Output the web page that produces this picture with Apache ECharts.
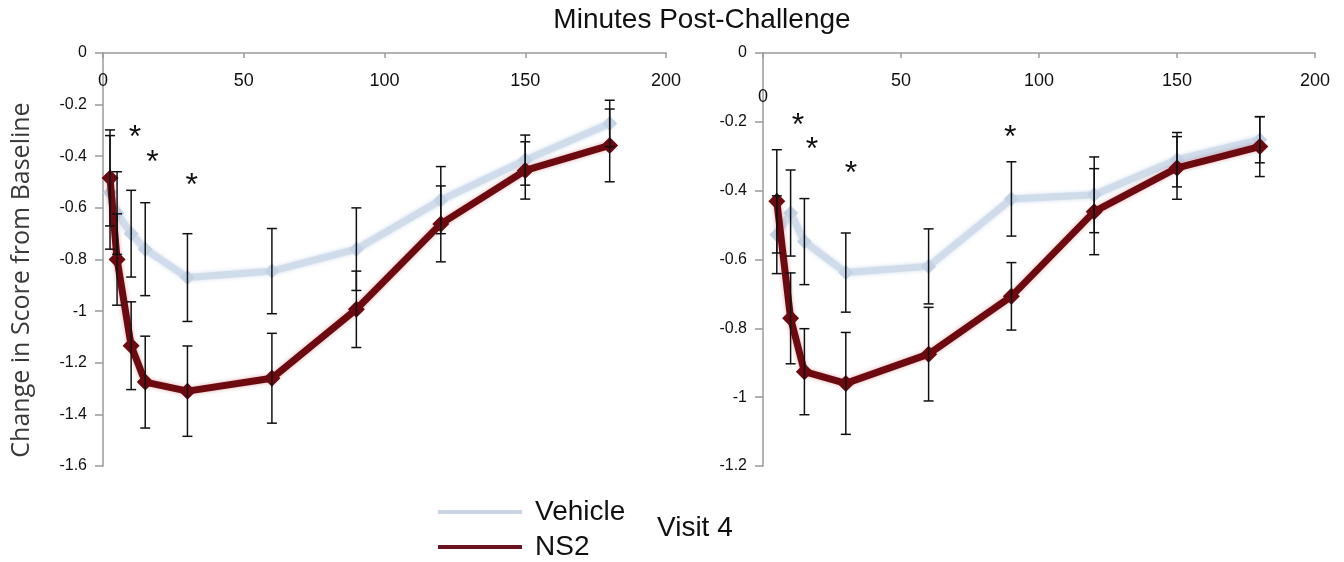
<!DOCTYPE html>
<html>
<head>
<meta charset="utf-8">
<script src="https://cdn.jsdelivr.net/npm/echarts@6/dist/echarts.min.js"></script>
<style>
html,body{margin:0;padding:0;background:#fff;}
#chart{width:1344px;height:562px;}
</style>
</head>
<body>
<div id="chart"></div>
<script>
// ---- data ----
const leftTimes = [2.5, 5, 10, 15, 30, 60, 90, 120, 150, 180];
const leftVehicle = [-0.54, -0.62, -0.70, -0.76, -0.87, -0.845, -0.76, -0.57, -0.415, -0.273];
const leftVehicleErr = [0.22, 0.16, 0.168, 0.18, 0.17, 0.165, 0.16, 0.13, 0.097, 0.09];
const leftNS2 = [-0.484, -0.80, -1.134, -1.275, -1.31, -1.26, -0.993, -0.662, -0.455, -0.358];
const leftNS2Err = [0.186, 0.177, 0.17, 0.178, 0.175, 0.174, 0.148, 0.147, 0.111, 0.141];

const rightTimes = [5, 10, 15, 30, 60, 90, 120, 150, 180];
const rightVehicle = [-0.528, -0.465, -0.548, -0.638, -0.62, -0.424, -0.412, -0.31, -0.252];
const rightVehicleErr = [0.113, 0.125, 0.125, 0.115, 0.109, 0.108, 0.11, 0.079, 0.067];
const rightNS2 = [-0.431, -0.771, -0.926, -0.96, -0.875, -0.707, -0.461, -0.334, -0.272];
const rightNS2Err = [0.15, 0.132, 0.125, 0.148, 0.136, 0.098, 0.125, 0.091, 0.087];

const leftStars = [[11.4, -0.298], [17.6, -0.395], [31.5, -0.486]];
const rightStars = [[12.7, -0.189], [17.75, -0.26], [31.9, -0.328], [89.6, -0.223]];

const xTicks = {min: 0, max: 200, interval: 50};
const leftY = {min: -1.6, max: 0, interval: 0.2};
const rightY = {min: -1.2, max: 0, interval: 0.2};

const seriesNames = ['Vehicle', 'NS2'];
const xTitle = 'Minutes Post-Challenge';
const yTitle = 'Change in Score from Baseline';
const panelLabel = 'Visit 4';

// ---- styling ----
const vehColor = '#d0dcea';
const vehMarker = '#c3d2e5';
const nsColor = '#6c0a10';
const FONT = '"Liberation Sans", Arial, sans-serif';

function zip(a, b, c) { return a.map((v, i) => c ? [v, b[i], c[i]] : [v, b[i]]); }

function errRender(params, api) {
  const x = api.value(0), y = api.value(1), e = api.value(2);
  const top = api.coord([x, y + e]);
  const bot = api.coord([x, y - e]);
  const hw = 5;
  const st = {stroke: '#111', lineWidth: 1.5};
  return {type: 'group', children: [
    {type: 'line', shape: {x1: top[0], y1: top[1], x2: bot[0], y2: bot[1]}, style: st},
    {type: 'line', shape: {x1: top[0] - hw, y1: top[1], x2: top[0] + hw, y2: top[1]}, style: st},
    {type: 'line', shape: {x1: bot[0] - hw, y1: bot[1], x2: bot[0] + hw, y2: bot[1]}, style: st}
  ]};
}

function xAxisFor(idx, shiftZero) {
  return {
    gridIndex: idx, type: 'value', position: 'top',
    min: xTicks.min, max: xTicks.max, interval: xTicks.interval,
    axisLine: {show: true, lineStyle: {color: '#9a9a9a', width: 1.5}},
    axisTick: {show: true, inside: true, length: 5, lineStyle: {color: '#9a9a9a', width: 1.5}},
    axisLabel: {
      inside: true, margin: 19, color: '#111', fontSize: 18, fontFamily: FONT,
      formatter: shiftZero ? (v => v === 0 ? '{z|0}' : String(v)) : (v => String(v)),
      rich: {z: {fontSize: 18, fontFamily: FONT, color: '#111', padding: [16, 0, 0, 0]}}
    },
    splitLine: {show: false}
  };
}
function yAxisFor(idx, cfg) {
  return {
    gridIndex: idx, type: 'value', min: cfg.min, max: cfg.max, interval: cfg.interval,
    axisLine: {show: true, lineStyle: {color: '#9a9a9a', width: 1.5}},
    axisTick: {show: true, length: 8, lineStyle: {color: '#9a9a9a', width: 1.5}},
    axisLabel: {margin: 16, color: '#111', fontSize: 16, fontFamily: FONT,
      formatter: v => String(Math.round(v * 10) / 10)},
    splitLine: {show: false}
  };
}

function panelSeries(idx, times, veh, vehErr, ns, nsErr, stars) {
  return [
    {name: seriesNames[0], type: 'line', xAxisIndex: idx, yAxisIndex: idx,
      data: zip(times, veh), symbol: 'diamond', symbolSize: 15, z: 2,
      lineStyle: {color: vehColor, width: 7, shadowColor: 'rgba(180,200,225,0.6)', shadowBlur: 4},
      itemStyle: {color: vehMarker}},
    {name: seriesNames[1], type: 'line', xAxisIndex: idx, yAxisIndex: idx,
      data: zip(times, ns), symbol: 'diamond', symbolSize: 17, z: 3,
      lineStyle: {color: nsColor, width: 7, shadowColor: 'rgba(160,20,20,0.35)', shadowBlur: 4},
      itemStyle: {color: nsColor}},
    {name: seriesNames[0] + ' SEM', type: 'custom', xAxisIndex: idx, yAxisIndex: idx,
      data: zip(times, veh, vehErr), renderItem: errRender, encode: {x: 0, y: 1}, z: 5, silent: true},
    {name: seriesNames[1] + ' SEM', type: 'custom', xAxisIndex: idx, yAxisIndex: idx,
      data: zip(times, ns, nsErr), renderItem: errRender, encode: {x: 0, y: 1}, z: 5, silent: true},
    {name: 'significance', type: 'scatter', xAxisIndex: idx, yAxisIndex: idx,
      data: stars, symbol: 'circle', symbolSize: 2, itemStyle: {color: 'rgba(0,0,0,0)'}, z: 6, silent: true,
      label: {show: true, position: 'inside', formatter: '*', fontSize: 32, fontFamily: FONT,
        color: '#111', opacity: 1, offset: [0, 8]}}
  ];
}

const chart = echarts.init(document.getElementById('chart'), null, {renderer: 'canvas'});
chart.setOption({
  animation: false,
  backgroundColor: '#ffffff',
  grid: [
    {left: 103, top: 53, width: 563, height: 413},
    {left: 763, top: 53, width: 552, height: 413}
  ],
  xAxis: [xAxisFor(0, false), xAxisFor(1, true)],
  yAxis: [yAxisFor(0, leftY), yAxisFor(1, rightY)],
  legend: {
    data: [
      {name: seriesNames[0], itemStyle: {color: '#c9d3e3'}},
      {name: seriesNames[1], itemStyle: {color: '#6a1322'}}
    ],
    orient: 'vertical', left: 438, top: 498, height: 100, padding: 0,
    itemWidth: 84, itemHeight: 4, itemGap: 7,
    icon: 'rect',
    textStyle: {fontSize: 28, fontFamily: FONT, color: '#111', padding: [0, 0, 0, 8]}
  },
  graphic: [
    {type: 'text', x: 702, y: 20,
      style: {text: xTitle, fontSize: 28, fontFamily: FONT, fill: '#111', align: 'center', verticalAlign: 'middle'}},
    {type: 'text', x: 22, y: 280, rotation: Math.PI / 2,
      style: {text: yTitle, fontSize: 25, fontFamily: '"Open Sans", Lato, sans-serif', fill: '#3a3a3a',
        align: 'center', verticalAlign: 'middle'}},
    {type: 'text', x: 657, y: 528,
      style: {text: panelLabel, fontSize: 28, fontFamily: FONT, fill: '#111', align: 'left', verticalAlign: 'middle'}}
  ],
  series: [].concat(
    panelSeries(0, leftTimes, leftVehicle, leftVehicleErr, leftNS2, leftNS2Err, leftStars),
    panelSeries(1, rightTimes, rightVehicle, rightVehicleErr, rightNS2, rightNS2Err, rightStars)
  )
});
</script>
</body>
</html>
